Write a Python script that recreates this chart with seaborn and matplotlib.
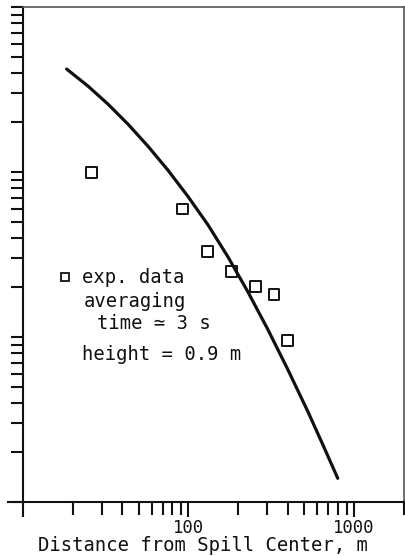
import matplotlib
matplotlib.use("Agg")
import matplotlib.pyplot as plt
import seaborn as sns
import pandas as pd
from matplotlib.lines import Line2D
from matplotlib.ticker import LogLocator, FixedLocator, FixedFormatter, NullFormatter

# data
exp_x = [26, 92, 131, 182, 254, 328, 398]
exp_y = [99, 59.7, 32.9, 24.9, 20.2, 18.1, 9.5]
curve_x = [18.41, 24.85, 32.79, 43.26, 57.09, 75.36, 99.45, 131.3, 173.2, 228.6,
           301.7, 398.1, 525.4, 646.9, 796.6]
curve_y = [420.9, 330.7, 257.2, 194.6, 143.1, 102.4, 71.0, 47.8, 30.6, 18.77,
           11.10, 6.35, 3.54, 2.23, 1.392]
x_major = [10, 100, 1000]
x_major_labels = ["", "100", "1000"]
x_label = "Distance from Spill Center, m"
legend_lines = ["exp. data", "averaging", "time \u2243 3 s", "height = 0.9 m"]

sns.set_theme(style="white")
plt.rcParams["font.family"] = ["DejaVu Sans Mono", "DejaVu Sans"]

fig = plt.figure(figsize=(4.05, 5.56), dpi=100)
ax = fig.add_axes([22.7 / 405, 54 / 556, (404 - 22.7) / 405, (502 - 7) / 556])

curve = pd.DataFrame({"x": curve_x, "y": curve_y})
exp = pd.DataFrame({"x": exp_x, "y": exp_y})

sns.lineplot(data=curve, x="x", y="y", ax=ax, color="#111111", lw=2.3, sort=False,
             estimator=None, solid_joinstyle="round", solid_capstyle="round")
sns.scatterplot(data=exp, x="x", y="y", ax=ax, marker="s", s=60, facecolor="none",
                edgecolor="#111111", linewidth=1.4)

ax.set_xscale("log")
ax.set_yscale("log")
ax.set_xlim(10, 2000)
ax.set_ylim(1, 1000)

ax.xaxis.set_major_locator(FixedLocator(x_major))
ax.xaxis.set_major_formatter(FixedFormatter(x_major_labels))
ax.xaxis.set_minor_locator(LogLocator(base=10, subs=range(2, 10), numticks=20))
ax.xaxis.set_minor_formatter(NullFormatter())
ax.yaxis.set_major_locator(LogLocator(base=10, numticks=10))
ax.yaxis.set_minor_locator(LogLocator(base=10, subs=range(2, 10), numticks=20))
ax.yaxis.set_major_formatter(NullFormatter())
ax.yaxis.set_minor_formatter(NullFormatter())

ax.tick_params(axis="x", which="both", direction="out", length=11, width=1.5,
               color="#111111", labelsize=12.4, pad=1, bottom=True, labelcolor="#111111")
ax.tick_params(axis="x", which="minor", length=9)
ax.tick_params(axis="y", which="both", direction="out", length=9, width=1.5,
               color="#111111", left=True)

for side in ["left", "bottom"]:
    ax.spines[side].set_color("#111111")
    ax.spines[side].set_linewidth(1.5)
for side in ["top", "right"]:
    ax.spines[side].set_color("#555555")
    ax.spines[side].set_linewidth(1.2)
ax.spines["bottom"].set_bounds(8.15, 2000)

ax.set_xlabel(x_label, fontsize=13.6, color="#111111", va="top")
ax.xaxis.set_label_coords(0.473, -0.068)
ax.set_ylabel("")

handle = Line2D([], [], marker="s", linestyle="none", markersize=5.5,
                markerfacecolor="none", markeredgecolor="#111111", markeredgewidth=1.3)
ax.legend([handle], [legend_lines[0]], loc="center left", bbox_to_anchor=(0.096, 0.453),
          frameon=False, handlelength=0.6, handletextpad=0.58, borderpad=0,
          borderaxespad=0, prop={"size": 13.6}, labelcolor="#111111")
ax.text(0.159, 0.4046, legend_lines[1], transform=ax.transAxes, fontsize=13.6,
        va="center", ha="left", color="#111111")
ax.text(0.194, 0.3596, legend_lines[2], transform=ax.transAxes, fontsize=13.6,
        va="center", ha="left", color="#111111")
ax.text(0.1547, 0.297, legend_lines[3], transform=ax.transAxes, fontsize=13.6,
        va="center", ha="left", color="#111111")

fig.savefig("out.png", dpi=100)
